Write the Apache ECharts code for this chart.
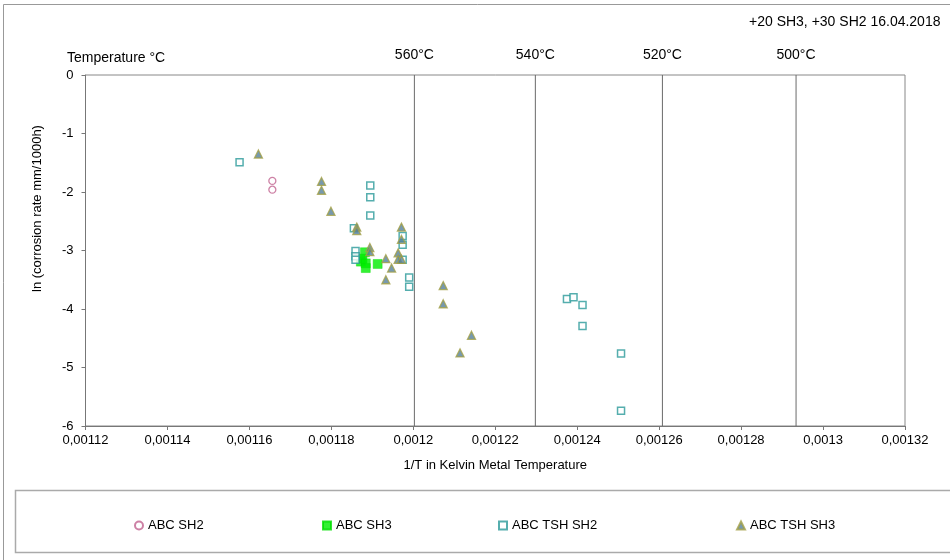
<!DOCTYPE html>
<html>
<head>
<meta charset="utf-8">
<script src="https://cdn.jsdelivr.net/npm/echarts@6/dist/echarts.min.js"></script>
<style>html,body{margin:0;padding:0;background:#fff}#c{width:950px;height:560px}</style>
</head>
<body>
<div id="c"></div>
<script>
// ---- data ----
var abcSH2 = [[0.0011656, -1.81], [0.0011656, -1.96]];
var abcSH3 = [[0.0011882, -3.03], [0.0011876, -3.14], [0.0011872, -3.19], [0.0011884, -3.22], [0.0011884, -3.30], [0.0011913, -3.23]];
var abcTSHSH2 = [
  [0.0011576, -1.49], [0.0011895, -1.89], [0.0011895, -2.09], [0.0011895, -2.40],
  [0.0011855, -2.62], [0.0011859, -3.01], [0.0011859, -3.10], [0.0011859, -3.16],
  [0.0011974, -2.75], [0.0011974, -2.90], [0.0011974, -3.16], [0.0011990, -3.46],
  [0.0011990, -3.62], [0.0012375, -3.83], [0.0012391, -3.80], [0.0012413, -3.93],
  [0.0012413, -4.29], [0.0012507, -4.76], [0.0012507, -5.74]
];
var abcTSHSH3 = [
  [0.0011622, -1.35], [0.0011776, -1.82], [0.0011776, -1.97], [0.0011799, -2.33],
  [0.0011862, -2.60], [0.0011862, -2.66], [0.0011894, -2.95], [0.0011894, -3.02],
  [0.0011971, -2.60], [0.0011971, -2.81], [0.0011963, -3.04], [0.0011963, -3.15],
  [0.0011971, -3.15], [0.0011933, -3.14], [0.0011947, -3.30], [0.0011933, -3.50],
  [0.0012073, -3.60], [0.0012073, -3.91], [0.0012142, -4.45], [0.0012114, -4.75]
];
var tempLines = [560, 540, 520, 500]; // °C, drawn at 1/(T+273.15)
var seriesNames = ['ABC SH2', 'ABC SH3', 'ABC TSH SH2', 'ABC TSH SH3'];
var legendLefts = [129, 317, 493, 731];
var xMin = 0.00112, xMax = 0.00132, xStep = 0.00002;
var yMin = -6, yMax = 0, yStep = 1;

var FONT = 'Liberation Sans, Arial, sans-serif';
function fmt(v) { return String(Number(v.toPrecision(6))).replace('.', ','); }

var tempSeries = tempLines.map(function (t) {
  var x = 1 / (t + 273.15);
  return {
    type: 'line', silent: true, legendHoverLink: false,
    data: [[x, yMin], {value: [x, yMax], label: {show: true}}],
    showSymbol: true, symbol: 'circle', symbolSize: 1,
    lineStyle: {color: '#6a6a6a', width: 1},
    itemStyle: {color: 'rgba(0,0,0,0)', borderWidth: 0},
    label: {show: false, position: 'top', distance: 12, formatter: t + '°C', fontSize: 14, color: '#000', fontFamily: FONT},
    z: 1
  };
});

var chart = echarts.init(document.getElementById('c'), null, {renderer: 'canvas'});
var option = {
  backgroundColor: '#fff',
  animation: false,
  textStyle: {fontFamily: FONT},
  title: [
    {text: '+20 SH3, +30 SH2 16.04.2018', left: 744, top: 10, textStyle: {fontSize: 14, fontWeight: 'normal', color: '#000', fontFamily: FONT}},
    {text: 'Temperature °C', left: 62, top: 46, textStyle: {fontSize: 14, fontWeight: 'normal', color: '#000', fontFamily: FONT}}
  ],
  graphic: [
    {type: 'rect', silent: true, shape: {x: 3.5, y: 4.5, width: 960, height: 570}, style: {fill: 'none', stroke: '#999', lineWidth: 1}},
    {type: 'rect', silent: true, shape: {x: 15.5, y: 490.5, width: 960, height: 62}, style: {fill: 'none', stroke: '#aaa', lineWidth: 1.5}}
  ],
  legend: seriesNames.map(function (n, i) {
    return {
      data: [n], left: legendLefts[i], top: 514,
      itemWidth: 8, itemHeight: 8, itemGap: 3,
      textStyle: {fontSize: 13, color: '#000', fontFamily: FONT}
    };
  }),
  grid: {left: 85.5, right: 45, top: 75, bottom: 134, show: true, borderColor: '#888', borderWidth: 1, containLabel: false},
  xAxis: {
    type: 'value', min: xMin, max: xMax, interval: xStep,
    name: '1/T in Kelvin Metal Temperature', nameLocation: 'middle', nameGap: 33,
    nameTextStyle: {fontSize: 13, color: '#000', fontFamily: FONT},
    axisLine: {show: true, onZero: false, lineStyle: {color: '#777'}},
    axisTick: {show: true, length: 4, lineStyle: {color: '#777'}},
    axisLabel: {formatter: fmt, fontSize: 13, color: '#000', margin: 8, fontFamily: FONT},
    splitLine: {show: false}
  },
  yAxis: {
    type: 'value', min: yMin, max: yMax, interval: yStep,
    name: 'ln (corrosion rate mm/1000h)', nameLocation: 'middle', nameGap: 42,
    nameTextStyle: {fontSize: 13, color: '#000', fontFamily: FONT, padding: [0, 0, 0, 84]},
    axisLine: {show: true, onZero: false, lineStyle: {color: '#777'}},
    axisTick: {show: true, length: 4, lineStyle: {color: '#777'}},
    axisLabel: {fontSize: 13, color: '#000', margin: 12, fontFamily: FONT},
    splitLine: {show: false}
  },
  series: tempSeries.concat([
    {
      name: seriesNames[0], type: 'scatter', data: abcSH2, symbol: 'circle', symbolSize: 7, z: 3,
      itemStyle: {color: '#fff', borderColor: '#c0628e', borderWidth: 1.3}
    },
    {
      name: seriesNames[1], type: 'scatter', data: abcSH3, symbol: 'rect', symbolSize: 9, z: 3,
      itemStyle: {color: '#00ee00', borderColor: '#00dd00', borderWidth: 0.5}
    },
    {
      name: seriesNames[2], type: 'scatter', data: abcTSHSH2, symbol: 'rect', symbolSize: 7, z: 3,
      itemStyle: {color: '#fff', borderColor: '#2a9a9a', borderWidth: 1.5}
    },
    {
      name: seriesNames[3], type: 'scatter', data: abcTSHSH3, symbol: 'triangle', symbolSize: 8, z: 3,
      itemStyle: {color: '#55809a', borderColor: '#a4a046', borderWidth: 1.3}
    }
  ])
};
chart.setOption(option);
</script>
</body>
</html>
